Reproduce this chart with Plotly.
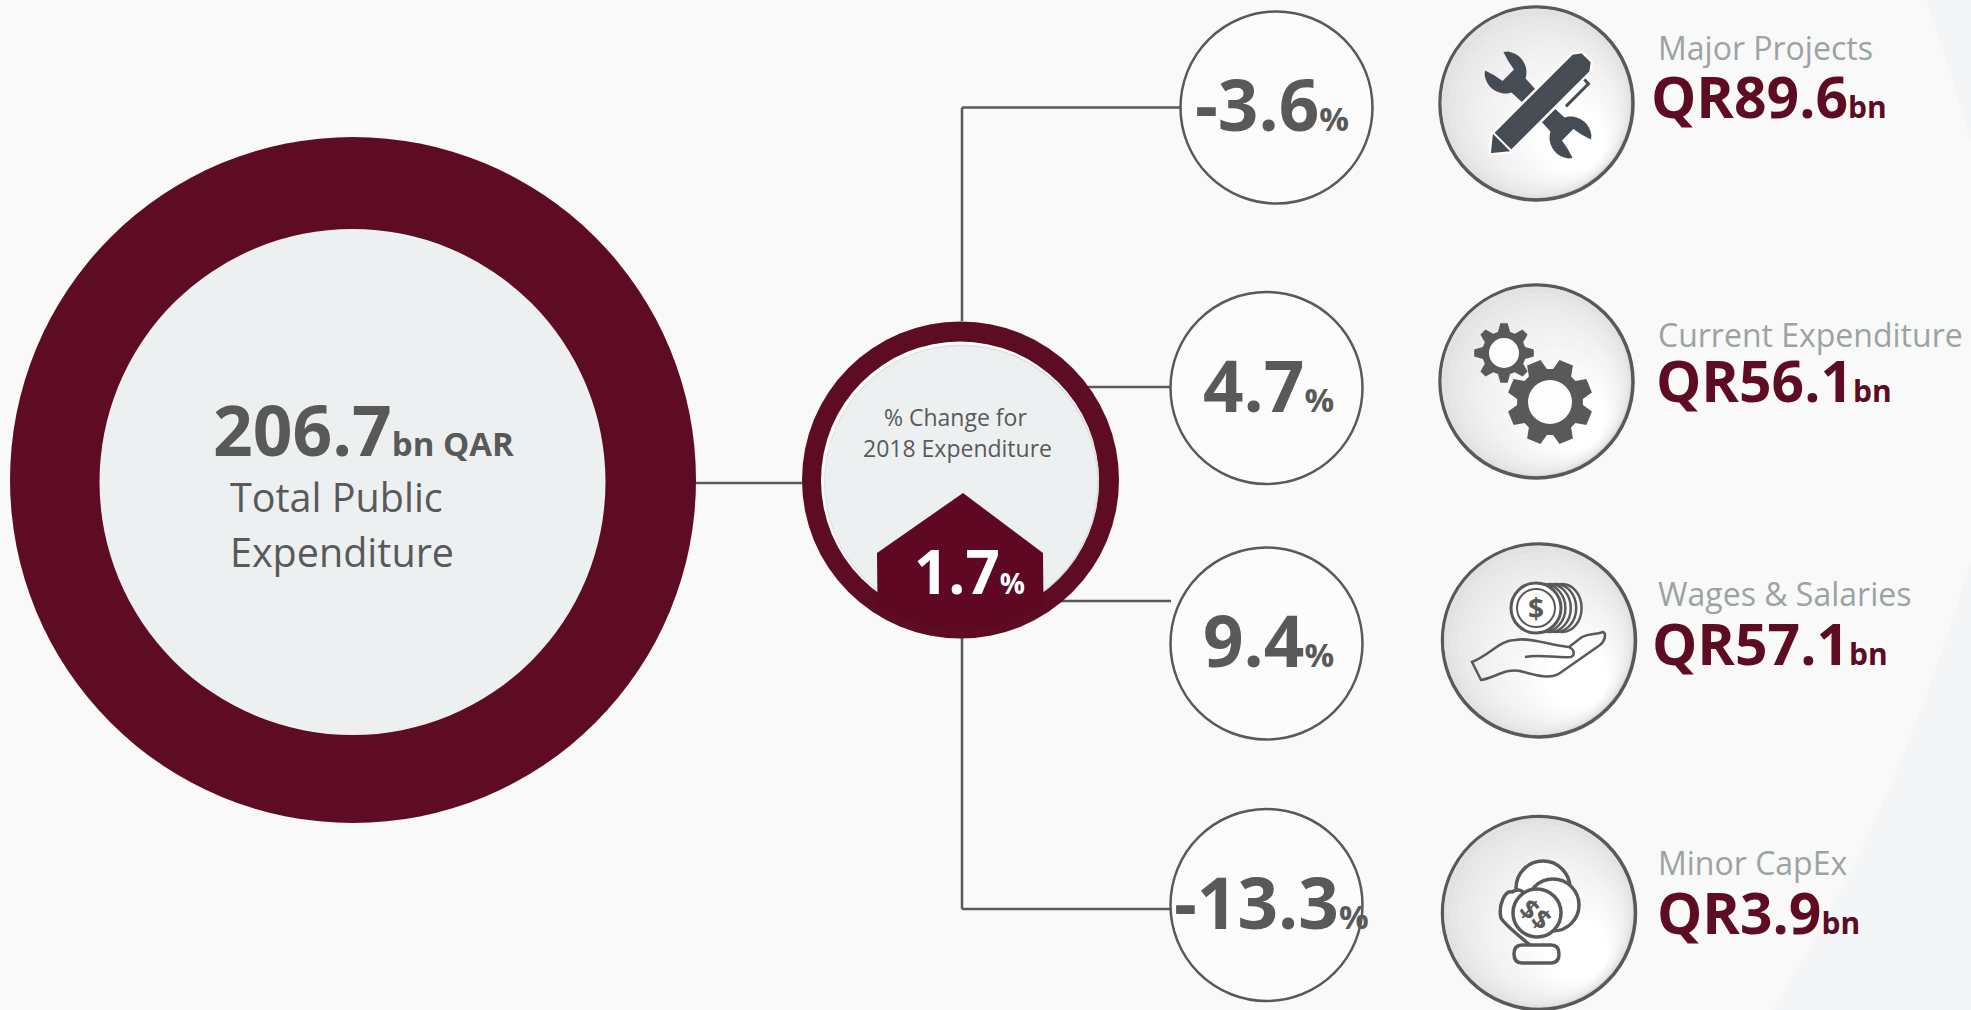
import numpy as np
import plotly.graph_objects as go

# ---- data ----
categories = ["Major Projects", "Current Expenditure", "Wages & Salaries", "Minor CapEx"]
amounts_bn = [89.6, 56.1, 57.1, 3.9]
changes_pct = [-3.6, 4.7, 9.4, -13.3]
total_bn = 206.7
total_change_pct = 1.7
total_label = ["Total Public", "Expenditure"]
centre_label = ["% Change for", "2018 Expenditure"]

# ---- styling ----
W, H = 1971, 1010
BG = "#f9f9f9"
WEDGE = "#f4f5f7"
MAROON = "#5e0b24"
GREY = "#595959"
LABEL = "#9ba3a3"
PALE = "#edf0f1"
DARK_ICON = "#454c54"
FONT_B = "Open Sans"
FONT_R = "Open Sans"

fig = go.Figure()
fig.add_trace(go.Scatter(x=[0, W], y=[0, H], mode="markers", marker=dict(opacity=0), hoverinfo="skip", showlegend=False))


def circle(cx, cy, r, fill=None, line=None, lw=0, ry=None):
    ry = ry or r
    fig.add_shape(type="circle", x0=cx - r, x1=cx + r, y0=cy - ry, y1=cy + ry,
                  fillcolor=fill or "rgba(0,0,0,0)", line=dict(color=line or "rgba(0,0,0,0)", width=lw), layer="above")


def path(d, fill=None, line=None, lw=0):
    fig.add_shape(type="path", path=d, fillcolor=fill or "rgba(0,0,0,0)",
                  line=dict(color=line or "rgba(0,0,0,0)", width=lw), layer="above")


def seg(x0, y0, x1, y1, color=GREY, lw=2.5):
    fig.add_shape(type="line", x0=x0, y0=y0, x1=x1, y1=y1, line=dict(color=color, width=lw), layer="above")


def txt(x, y, s, size, color, font=FONT_R, anchor="left", angle=0, bold=False):
    fig.add_annotation(x=x, y=y, text=s, showarrow=False, xanchor=anchor, yanchor="middle", textangle=angle,
                       font=dict(size=size, color=color, family=font, weight="bold" if bold else "normal"),
                       borderpad=0, borderwidth=0, align="left")


def poly(points):
    return "M" + " L".join(f"{x:.1f},{y:.1f}" for x, y in points) + " Z"


def gear(cx, cy, R, r, hole, teeth, color, phase, w1=0.30, w2=0.17):
    pts = []
    step = 2 * np.pi / teeth
    for i in range(teeth):
        a = i * step + phase
        for da, rad in [(-w1, r), (-w2, R), (w2, R), (w1, r)]:
            pts.append((cx + rad * np.cos(a + da), cy + rad * np.sin(a + da)))
    path(poly(pts), fill=color)
    circle(cx, cy, r - 1, fill=color)
    circle(cx, cy, hole, fill="#fdfdfd")


def rot(cx, cy, ang, pts):
    c, s = np.cos(ang), np.sin(ang)
    return [(cx + u * c - v * s, cy + u * s + v * c) for u, v in pts]


# background wedges at the right edge
path("M1926,0 Q1950,70 1971,140 L1971,0 Z", fill=WEDGE)
path("M1971,560 Q1890,830 1772,1010 L1971,1010 Z", fill=WEDGE)

# connectors
HUB = (960.5, 480)
ROW_C = [(1276.5, 107.5), (1266.5, 388), (1266.5, 643.5), (1266.5, 905)]
ICON_C = [(1536.5, 103.5), (1536.5, 381.5), (1539, 640.5), (1539, 913)]
CHANGE_DX = [-5, 2, 2, 5]
seg(695, 483, 802, 483)
seg(962, 321, 962, 107.5)
seg(962, 107.5, 1181, 107.5)
seg(1088, 387, 1171, 387)
seg(1058, 601, 1171, 601)
seg(962, 638, 962, 909)
seg(962, 909, 1171, 909)

# total circle
circle(353, 480, 343, fill=MAROON)
circle(352.5, 482, 253, fill=PALE)
txt(213, 429, f"{total_bn}<span style='font-size:33px'>bn QAR</span>", 69.5, GREY, FONT_B, bold=True)
txt(230, 497, total_label[0], 39.5, GREY)
txt(230, 552, total_label[1], 39.5, GREY)

# hub circle
circle(HUB[0], HUB[1], 158.5, fill=MAROON)
circle(HUB[0] - 0.5, 480.5, 139, fill="#fdfdfd")
circle(HUB[0] + 1, 482, 137.5, fill="#dedfe0")
circle(HUB[0] + 0.5, 482, 136, fill=PALE)
arc = np.linspace(np.arccos(83 / 150), np.pi - np.arccos(83 / 150), 24)
pent = [(963, 493), (1043, 553)] + [(HUB[0] + 150 * np.cos(t), HUB[1] + 150 * np.sin(t)) for t in arc] + [(877, 553)]
path(poly(pent), fill="#5e0824")
txt(955, 417, centre_label[0], 23, GREY, anchor="center")
txt(957, 448, centre_label[1], 23, GREY, anchor="center")
txt(914, 571, f"{total_change_pct}<span style='font-size:28px'>%</span>", 60, "#ffffff", FONT_B, bold=True)

# change circles and icon circles
for (cx, cy), (ix, iy), ch, dx in zip(ROW_C, ICON_C, changes_pct, CHANGE_DX):
    circle(cx, cy, 96, fill="#fcfcfc", line=GREY, lw=2.5)
    txt(cx + dx, cy - 4, f"{ch}<span style='font-size:33px'>%</span>", 71, GREY, FONT_B, anchor="center", bold=True)

    circle(ix, iy, 96.5, fill="#d8d8d8", line=GREY, lw=3.5)
    steps = 16
    for k in range(steps):
        rr = 94.5 - k * 4.2
        shift = (94.5 - rr) * 0.6
        level = int(226 + (255 - 226) * (k / (steps - 1)) ** 0.7)
        circle(ix + shift - 0.5, iy + shift - 0.5, rr, fill=f"rgb({level},{level},{level})")

LAB_Y = [47, 334, 593, 862]
VAL_Y = [96, 380, 643, 912]
VAL_X = [1651, 1656, 1652, 1657]
for lab_y, val_y, val_x, cat, amt in zip(LAB_Y, VAL_Y, VAL_X, categories, amounts_bn):
    txt(1658, lab_y, cat, 32, LABEL)
    txt(val_x, val_y, f"QR{amt}<span style='font-size:30px'>bn</span>", 57, MAROON, FONT_B, bold=True)

# ---- icon 1: wrench and pen ----
cx, cy = 1538, 105
a1 = np.pi / 4  # wrench axis, upper left to lower right
for sign in (-1, 1):
    jaw = [(sign * 52, -10), (sign * 42, -8), (sign * 42, 8), (sign * 52, 10)]
    body = [(sign * 62, -13)] + [(sign * (46 + 21 * np.cos(t)), 21 * np.sin(t)) for t in np.linspace(-0.9, -np.pi + 0.5, 10)] \
        + [(sign * 8, -9), (sign * 8, 9)] \
        + [(sign * (46 + 21 * np.cos(t)), 21 * np.sin(t)) for t in np.linspace(np.pi - 0.5, 0.9, 10)] \
        + [(sign * 62, 13)] + jaw[::-1]
    path(poly(rot(cx, cy, a1, body)), fill=DARK_ICON)
a2 = -np.pi / 4
pen = [(-54, 13), (-70, 0), (-54, -13), (60, -13), (68, -7), (68, 7), (60, 13)]
path(poly(rot(cx + 1, cy, a2, pen)), fill=DARK_ICON, line="#fdfdfd", lw=2.5)
seg(*rot(cx + 1, cy, a2, [(-52, -14)])[0], *rot(cx + 1, cy, a2, [(-52, 14)])[0], color="#fdfdfd", lw=2)
clip = [(18, 20), (50, 20), (50, 14)]
path("M" + " L".join(f"{x:.1f},{y:.1f}" for x, y in rot(cx + 1, cy, a2, clip)), line=DARK_ICON, lw=3)

# ---- icon 2: gears ----
gear(1504, 353, 30, 22, 15, 8, GREY, 0.0, 0.28, 0.12)
gear(1550, 402, 43, 33, 22, 8, GREY, np.pi / 8)

# ---- icon 3: coins in a hand ----
for off in (24, 18, 12, 6):
    circle(1538 + off, 608, 22 - off * 0.1, fill="#fafafa", line=GREY, lw=2.5, ry=24)
circle(1536, 608, 25, fill="#ffffff", line=GREY, lw=3)
circle(1536, 608, 19, fill="#ffffff", line=GREY, lw=2)
txt(1536, 608, "$", 28, GREY, anchor="center", bold=True)
path("M1472,662 L1481,680 C1495,678 1505,668 1520,671 C1535,675 1550,680 1560,673 "
     "L1600,645 C1606,640 1606,633 1603,632 C1595,635 1590,633 1582,637 L1569,647 "
     "C1550,645 1530,637 1515,640 C1500,640 1490,655 1472,662 Z", line=GREY, lw=2.5)
path("M1525,657 C1540,654 1555,658 1571,657 C1575,655 1575,650 1569,647", line=GREY, lw=2.5)

# ---- icon 4: coins in a hand, outlined ----
circle(1543, 888, 27, fill="#fdfdfd", line=GREY, lw=3.5)
circle(1553, 905, 26, fill="#fdfdfd", line=GREY, lw=3.5)
path("M1530,945 C1518,935 1505,925 1501,918 C1498,905 1505,890 1512,892 C1518,888 1522,890 1526,895",
     fill="#fdfdfd", line=GREY, lw=3.5)
circle(1537, 913, 24, fill="#fdfdfd", line=GREY, lw=3.5)
txt(1536, 913, "$$", 27, GREY, anchor="center", angle=40, bold=True)
path("M1522,945 L1551,945 Q1559,945 1559,954 Q1559,963 1551,963 L1522,963 Q1514,963 1514,954 Q1514,945 1522,945 Z",
     line=GREY, lw=3.5)

fig.update_layout(width=W, height=H, margin=dict(l=0, r=0, t=0, b=0), paper_bgcolor=BG, plot_bgcolor=BG,
                  showlegend=False, autosize=False,
                  xaxis=dict(range=[0, W], visible=False, fixedrange=True),
                  yaxis=dict(range=[H, 0], visible=False, fixedrange=True))

fig.write_html("out.html", config={"displayModeBar": False},
               post_script="document.body.style.margin='0';document.body.style.overflow='hidden';")
